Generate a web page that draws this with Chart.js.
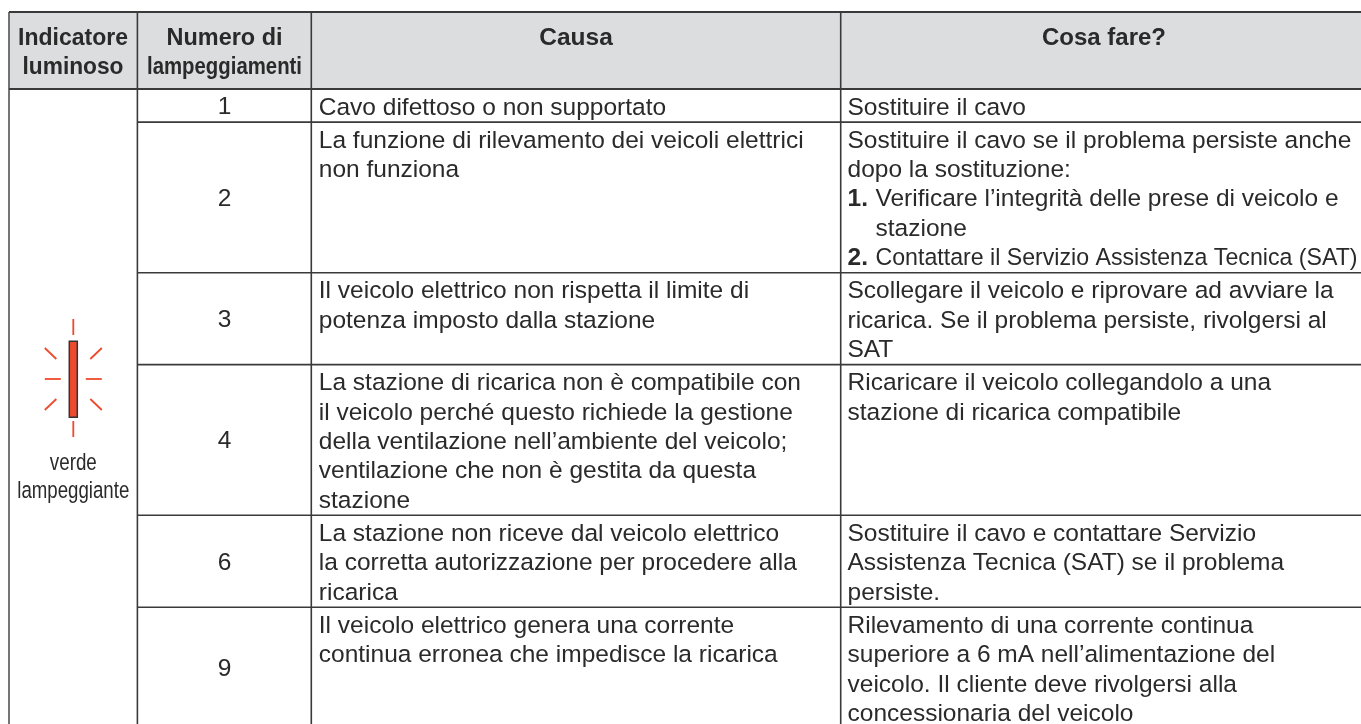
<!DOCTYPE html>
<html>
<head>
<meta charset="utf-8">
<style>
  html, body { margin: 0; padding: 0; background: #fff; }
  canvas { display: block; }
</style>
<script src="https://cdn.jsdelivr.net/npm/chart.js@4"></script>
</head>
<body>
<canvas id="table" width="1361" height="724"></canvas>
<script>
const headers = [['Indicatore', 'luminoso'], ['Numero di', 'lampeggiamenti'], ['Causa'], ['Cosa fare?']];
const indicatorLabel = ['verde', 'lampeggiante'];
const flashCounts = ['1', '2', '3', '4', '6', '9'];
const rowLines = [1, 5, 3, 5, 3, 4];
const causes = [
  ['Cavo difettoso o non supportato'],
  ['La funzione di rilevamento dei veicoli elettrici', 'non funziona'],
  ['Il veicolo elettrico non rispetta il limite di', 'potenza imposto dalla stazione'],
  ['La stazione di ricarica non è compatibile con', 'il veicolo perché questo richiede la gestione', 'della ventilazione nell’ambiente del veicolo;', 'ventilazione che non è gestita da questa', 'stazione'],
  ['La stazione non riceve dal veicolo elettrico', 'la corretta autorizzazione per procedere alla', 'ricarica'],
  ['Il veicolo elettrico genera una corrente', 'continua erronea che impedisce la ricarica']
];
const actions = [
  ['Sostituire il cavo'],
  ['Sostituire il cavo se il problema persiste anche', 'dopo la sostituzione:', '1.|Verificare l’integrità delle prese di veicolo e', '|stazione', '2.|Contattare il Servizio Assistenza Tecnica (SAT)'],
  ['Scollegare il veicolo e riprovare ad avviare la', 'ricarica. Se il problema persiste, rivolgersi al', 'SAT'],
  ['Ricaricare il veicolo collegandolo a una', 'stazione di ricarica compatibile'],
  ['Sostituire il cavo e contattare Servizio', 'Assistenza Tecnica (SAT) se il problema', 'persiste.'],
  ['Rilevamento di una corrente continua', 'superiore a 6 mA nell’alimentazione del', 'veicolo. Il cliente deve rivolgersi alla', 'concessionaria del veicolo']
];

// layout: x is in pixels, y is in text lines counted from the bottom of the header
const columnEdges = [9, 137.4, 311.3, 840.7];
const columnCenters = [73, 224.5, 576, 1104];
const headerWidths = [[110, 101], [116, 155], [74], [124]];
const LINE_PX = 29.4, HEAD_PX = 89, HEAD_LINES = 2.62, ROW_PAD = 0.125, BASE = 0.87;
const INK = '#2b2a2a', RULE = '#3a3a3a', RED = '#ee4a2c', HEAD_BG = '#dcddde';
const y = px => (px - HEAD_PX) / LINE_PX;

const rowEdges = [0];
rowLines.forEach(n => rowEdges.push(rowEdges[rowEdges.length - 1] + n + ROW_PAD));

function segment(x1, y1, x2, y2, color, width) {
  return {data: [{x: x1, y: y1}, {x: x2, y: y2}], borderColor: color, borderWidth: width, pointRadius: 0, fill: false, showLine: true, borderCapStyle: 'butt'};
}

const datasets = [];
const cx = 73.3, cy = y(379);
// lamp rays, given as dx/dy pixel offsets from the lamp centre
[[0, -60, 0, -44], [0, 42, 0, 58], [-28.5, 0, -12.5, 0], [12.5, 0, 28.5, 0],
 [-28.5, -31, -17, -20], [17, -20, 28.5, -31], [-28.5, 31, -17, 20], [17, 20, 28.5, 31]].forEach(r => {
  datasets.push(segment(cx + r[0], cy + r[1] / LINE_PX, cx + r[2], cy + r[3] / LINE_PX, RED, 1.8));
});
datasets.push(segment(cx, y(342), cx, y(416.5), RED, 6.5));
datasets.push(segment(cx, y(340.5), cx, y(418), '#333333', 9.5));

rowEdges.slice(1).forEach(v => {
  if (v < y(724)) datasets.push(segment(columnEdges[1], v, 1361, v, RULE, 1.6));
});
datasets.push(segment(columnEdges[0], 0, 1361, 0, RULE, 2));
datasets.push(segment(columnEdges[0], -HEAD_LINES, 1361, -HEAD_LINES, RULE, 2));
columnEdges.forEach((x, i) => {
  datasets.push(segment(x, -HEAD_LINES, x, y(724), i === 0 ? '#666666' : RULE, i === 0 ? 1.8 : 1.6));
});
const headFill = segment(columnEdges[0], -HEAD_LINES, 1361, -HEAD_LINES, HEAD_BG, 0);
headFill.fill = {value: 0};
headFill.backgroundColor = HEAD_BG;
datasets.push(headFill);

const tableText = {
  id: 'tableText',
  afterDatasetsDraw(chart) {
    const c = chart.ctx, sx = chart.scales.x, sy = chart.scales.y;
    const put = (text, x, line, font, align, maxW) => {
      c.font = font;
      c.textAlign = align;
      c.fillText(text, sx.getPixelForValue(x), sy.getPixelForValue(line), maxW);
    };
    const BODY = '24.5px "Liberation Sans"', BOLD = 'bold 24.5px "Liberation Sans"';
    c.save();
    c.fillStyle = INK;
    c.textBaseline = 'alphabetic';

    headers.forEach((lines, i) => {
      lines.forEach((t, j) => {
        put(t, columnCenters[i], -HEAD_LINES + 1.12 + j * 0.985, BOLD, 'center', headerWidths[i][j]);
      });
    });
    put(indicatorLabel[0], cx, y(470), BODY, 'center', 47);
    put(indicatorLabel[1], cx, y(498), BODY, 'center', 112);

    flashCounts.forEach((t, i) => {
      put(t, columnCenters[1], (rowEdges[i] + rowEdges[i + 1]) / 2 + 0.29, BODY, 'center');
    });
    causes.forEach((lines, i) => {
      lines.forEach((t, j) => put(t, columnEdges[2] + 7.5, rowEdges[i] + BASE + j, BODY, 'left'));
    });
    actions.forEach((lines, i) => {
      lines.forEach((t, j) => {
        const line = rowEdges[i] + BASE + j;
        const left = columnEdges[3] + 6.8;
        if (t.includes('|')) {
          const parts = t.split('|');
          if (parts[0]) put(parts[0], left, line, BOLD, 'left');
          // the SAT line is set tighter in the original so it fits the column
          put(parts[1], left + 28, line, BODY, 'left', parts[1].endsWith('(SAT)') ? 482 : undefined);
        } else {
          put(t, left, line, BODY, 'left');
        }
      });
    });
    c.restore();
  }
};

new Chart(document.getElementById('table').getContext('2d'), {
  type: 'scatter',
  data: {datasets},
  options: {
    responsive: false,
    animation: false,
    layout: {padding: 0},
    plugins: {legend: {display: false}, tooltip: {enabled: false}},
    scales: {
      x: {type: 'linear', display: false, min: 0, max: 1361},
      y: {type: 'linear', display: false, reverse: true, min: y(0), max: y(724)}
    }
  },
  plugins: [tableText]
});
</script>
</body>
</html>
